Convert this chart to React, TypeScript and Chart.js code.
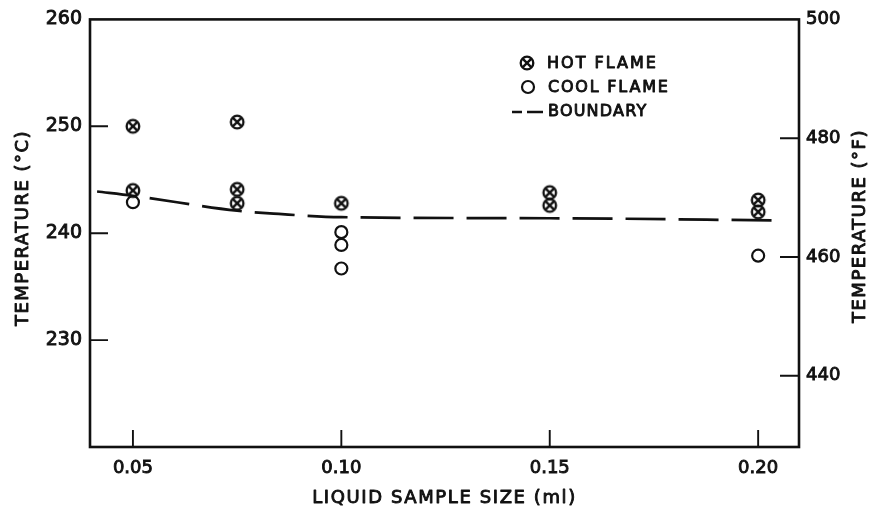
import { useEffect, useRef } from "react";
import { Chart, registerables } from "chart.js";

Chart.register(...registerables);

// Axis tick values
const sampleSizeTicks = [0.05, 0.1, 0.15, 0.2];
const celsiusTicks = [230, 240, 250, 260];
const fahrenheitTicks = [440, 460, 480, 500];

// Hot-flame ignitions: sample size (ml) and temperature (°C)
const hotFlameX = [0.05, 0.05, 0.075, 0.075, 0.075, 0.1, 0.15, 0.15, 0.2, 0.2];
const hotFlameC = [250.0, 244.0, 250.4, 244.1, 242.8, 242.8, 243.8, 242.6, 243.1, 242.0];

// Cool-flame ignitions
const coolFlameX = [0.05, 0.1, 0.1, 0.1, 0.2];
const coolFlameC = [242.9, 240.1, 238.9, 236.7, 237.9];

// Hot / cool flame boundary
const boundaryX = [0.0414, 0.05, 0.075, 0.085, 0.1, 0.15, 0.2036];
const boundaryC = [243.9, 243.5, 242.1, 241.8, 241.5, 241.4, 241.2];

const INK = "#111";
const FONT = "'DejaVu Sans', sans-serif";
const TEXT_STROKE = 0.9;

function makeHotFlameSymbol(): HTMLCanvasElement {
  const size = 20;
  const c = document.createElement("canvas");
  c.width = size;
  c.height = size;
  const g = c.getContext("2d")!;
  const m = size / 2;
  const r = 6.3;
  g.strokeStyle = INK;
  g.lineWidth = 2.3;
  g.beginPath();
  g.arc(m, m, r, 0, Math.PI * 2);
  g.stroke();
  const d = r / Math.SQRT2;
  g.lineWidth = 2.4;
  g.beginPath();
  g.moveTo(m - d, m - d);
  g.lineTo(m + d, m + d);
  g.moveTo(m + d, m - d);
  g.lineTo(m - d, m + d);
  g.stroke();
  return c;
}

function spacedText(
  ctx: CanvasRenderingContext2D,
  text: string,
  x: number,
  y: number,
  spacing: number,
  align: CanvasTextAlign,
  rotate = false
) {
  ctx.save();
  ctx.translate(x, y);
  if (rotate) ctx.rotate(-Math.PI / 2);
  (ctx as any).letterSpacing = spacing + "px";
  ctx.textAlign = align;
  ctx.textBaseline = "middle";
  ctx.lineWidth = TEXT_STROKE;
  ctx.lineJoin = "round";
  ctx.fillText(text, 0, 0);
  ctx.strokeText(text, 0, 0);
  ctx.restore();
}

export default function App() {
  const canvasRef = useRef<HTMLCanvasElement | null>(null);

  useEffect(() => {
    const canvas = canvasRef.current;
    if (!canvas) return;
    const hotSymbol = makeHotFlameSymbol();

    const framePlugin = {
      id: "frameAndAnnotations",
      afterDraw(chart: any) {
        const { ctx, chartArea } = chart;
        const { left, right, top, bottom } = chartArea;
        const xs = chart.scales.x;
        const ys = chart.scales.y;
        const y2 = chart.scales.y2;
        ctx.save();
        ctx.strokeStyle = INK;
        ctx.fillStyle = INK;

        // frame
        ctx.lineWidth = 2.6;
        ctx.lineJoin = "miter";
        ctx.strokeRect(left, top, right - left, bottom - top);

        // inward tick marks
        ctx.lineWidth = 1.9;
        ctx.beginPath();
        for (const v of sampleSizeTicks) {
          const px = xs.getPixelForValue(v);
          ctx.moveTo(px, bottom);
          ctx.lineTo(px, bottom - 17);
        }
        for (const v of celsiusTicks) {
          if (v >= ys.max || v <= ys.min) continue;
          const py = ys.getPixelForValue(v);
          ctx.moveTo(left, py);
          ctx.lineTo(left + 18, py);
        }
        for (const v of fahrenheitTicks) {
          if (v >= y2.max || v <= y2.min) continue;
          const py = y2.getPixelForValue(v);
          ctx.moveTo(right, py);
          ctx.lineTo(right - 19, py);
        }
        ctx.stroke();

        // axis titles
        ctx.font = `18px ${FONT}`;
        spacedText(ctx, "LIQUID SAMPLE SIZE (ml)", (left + right) / 2, 498, 1.6, "center");
        spacedText(ctx, "TEMPERATURE (°C)", 23, 228, 1.5, "center", true);
        spacedText(ctx, "TEMPERATURE (°F)", 860, 226, 1.5, "center", true);

        // legend
        const lx = 527;
        const tx = 547;
        ctx.drawImage(hotSymbol, lx - 10, 63 - 10);
        ctx.lineWidth = 2.2;
        ctx.beginPath();
        ctx.arc(lx + 1, 87, 6, 0, Math.PI * 2);
        ctx.stroke();
        ctx.lineWidth = 2.6;
        ctx.beginPath();
        ctx.moveTo(512, 112);
        ctx.lineTo(522, 112);
        ctx.moveTo(527, 112);
        ctx.lineTo(543, 112);
        ctx.stroke();
        ctx.font = `16px ${FONT}`;
        spacedText(ctx, "HOT FLAME", tx, 64, 2, "left");
        spacedText(ctx, "COOL FLAME", tx + 1, 88, 1.8, "left");
        spacedText(ctx, "BOUNDARY", tx + 1, 112, 1.2, "left");
        ctx.restore();
      },
    };

    const tickFont = { family: FONT, size: 18 };

    const chart = new Chart(canvas, {
      type: "scatter",
      data: {
        datasets: [
          {
            label: "HOT FLAME",
            data: hotFlameX.map((x, i) => ({ x, y: hotFlameC[i] })),
            pointStyle: hotSymbol as any,
            pointRadius: 7,
            showLine: false,
          },
          {
            label: "COOL FLAME",
            data: coolFlameX.map((x, i) => ({ x, y: coolFlameC[i] })),
            pointStyle: "circle",
            pointRadius: 6,
            borderWidth: 2.2,
            borderColor: INK,
            backgroundColor: "rgba(255,255,255,0)",
            showLine: false,
          },
          {
            label: "BOUNDARY",
            data: boundaryX.map((x, i) => ({ x, y: boundaryC[i] })),
            showLine: true,
            pointRadius: 0,
            borderColor: INK,
            borderWidth: 2.7,
            borderDash: [40, 13],
            cubicInterpolationMode: "monotone",
          },
        ],
      },
      options: {
        animation: false,
        responsive: false,
        devicePixelRatio: 1,
        layout: { padding: { top: 19, left: 0, right: 0, bottom: 0 } },
        plugins: { legend: { display: false }, tooltip: { enabled: false } },
        scales: {
          x: {
            type: "linear",
            min: 0.0397,
            max: 0.2098,
            grid: { display: false, drawTicks: false },
            border: { display: false },
            afterBuildTicks: (s: any) => {
              s.ticks = sampleSizeTicks.map((value) => ({ value }));
            },
            afterFit: (s: any) => {
              s.height = 64;
            },
            ticks: {
              padding: 11,
              color: INK,
              textStrokeColor: INK,
              textStrokeWidth: TEXT_STROKE,
              font: tickFont,
              maxRotation: 0,
              autoSkip: false,
              callback: (v: any) => Number(v).toFixed(2),
            },
          },
          y: {
            type: "linear",
            position: "left",
            min: 220,
            max: 260,
            grid: { display: false, drawTicks: false },
            border: { display: false },
            afterBuildTicks: (s: any) => {
              s.ticks = celsiusTicks.map((value) => ({ value }));
            },
            afterFit: (s: any) => {
              s.width = 90;
            },
            ticks: {
              padding: 8,
              color: INK,
              textStrokeColor: INK,
              textStrokeWidth: TEXT_STROKE,
              font: { family: FONT, size: 19 },
              callback: (v: any) => String(v),
            },
          },
          y2: {
            type: "linear",
            position: "right",
            min: 428,
            max: 500,
            grid: { display: false, drawTicks: false },
            border: { display: false },
            afterBuildTicks: (s: any) => {
              s.ticks = fahrenheitTicks.map((value) => ({ value }));
            },
            afterFit: (s: any) => {
              s.width = 71;
            },
            ticks: {
              padding: 7,
              color: INK,
              textStrokeColor: INK,
              textStrokeWidth: TEXT_STROKE,
              font: tickFont,
              callback: (v: any) => String(v),
            },
          },
        },
      },
      plugins: [framePlugin],
    } as any);

    return () => chart.destroy();
  }, []);

  return (
    <div style={{ position: "absolute", left: 0, top: 0, width: 870, height: 511, background: "#fff" }}>
      <canvas ref={canvasRef} width={870} height={511} />
    </div>
  );
}
